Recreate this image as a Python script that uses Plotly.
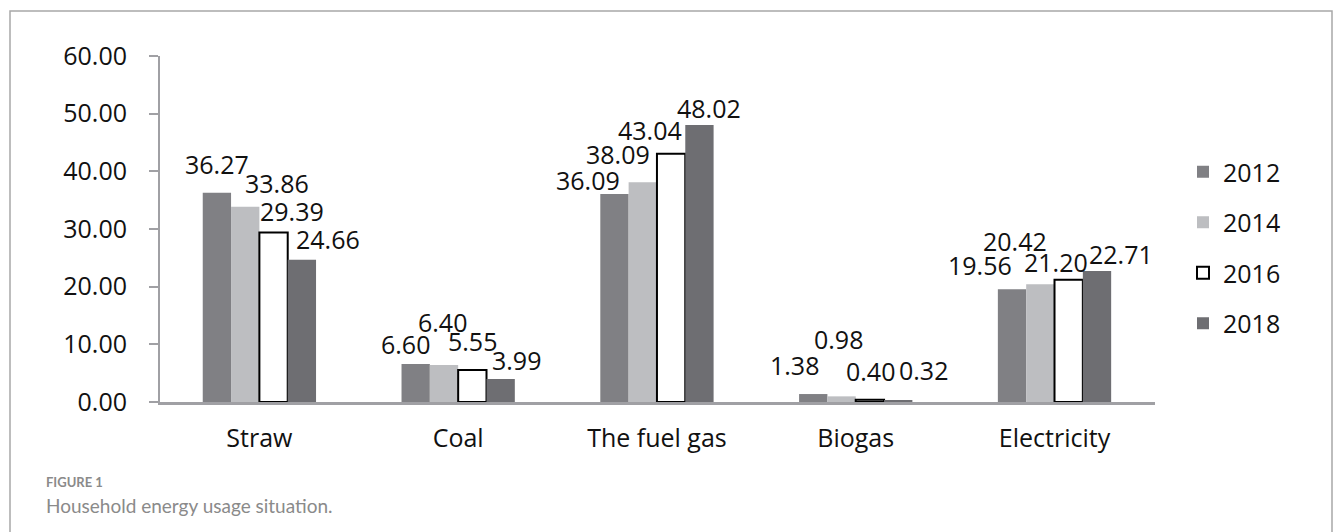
import plotly.graph_objects as go

# Household energy usage by source and survey year
categories = ["Straw", "Coal", "The fuel gas", "Biogas", "Electricity"]
years = ["2012", "2014", "2016", "2018"]
values_2012 = [36.27, 6.60, 36.09, 1.38, 19.56]
values_2014 = [33.86, 6.40, 38.09, 0.98, 20.42]
values_2016 = [29.39, 5.55, 43.04, 0.40, 21.20]
values_2018 = [24.66, 3.99, 48.02, 0.32, 22.71]
y_ticks = [0, 10, 20, 30, 40, 50, 60]

series = [values_2012, values_2014, values_2016, values_2018]

# styling per year: fill, outline colour, outline width
fills = ["#808084", "#bdbec1", "#ffffff", "#6e6e72"]
outlines = ["#808084", "#bdbec1", "#000000", "#6e6e72"]
outline_w = [0, 0, 2, 0]

# data label nudges (pixels): horizontal shift from bar centre, height above bar top
label_dx = [
    [0, -10, -26, -19, -32],
    [32, -2, -25, -3, -25],
    [18, 0, -21, 1, -13],
    [26, 16, 10, 25, 24],
]
label_dy = [
    [29, 20, 14, 29, 24],
    [24, 43, 28, 57, 43],
    [22, 29, 24, 29, 18],
    [21, 19, 17, 30, 17],
]

BARGAP = 0.43
FONT = "Open Sans"
FS = 25
W, H = 1333, 532
ML, MR, MT, MB = 160, 178, 56, 130
PW = W - ML - MR
PH = H - MT - MB


def px_x(p):
    return (p - ML) / PW


def px_y(p):
    return (H - MB - p) / PH


fig = go.Figure()
for k, (yr, vals) in enumerate(zip(years, series)):
    fig.add_trace(go.Bar(
        name=yr,
        x=categories,
        y=vals,
        marker=dict(color=fills[k], line=dict(color=outlines[k], width=outline_w[k])),
        legendgroup=yr,
    ))

bar_w = (1 - BARGAP) / len(years)
annotations = []
for k, vals in enumerate(series):
    for i, v in enumerate(vals):
        annotations.append(dict(
            x=i + (k - (len(years) - 1) / 2) * bar_w,
            y=v,
            xref="x", yref="y",
            text=f"{v:.2f}",
            showarrow=False,
            xanchor="center", yanchor="middle",
            xshift=label_dx[k][i],
            yshift=label_dy[k][i],
            font=dict(family=FONT, size=FS, color="#111111"),
        ))

annotations.append(dict(
    x=px_x(44), y=px_y(482), xref="paper", yref="paper",
    text="<b>FIGURE 1</b>", showarrow=False, xanchor="left", yanchor="middle",
    font=dict(family="Lato", size=13, color="#8a8a8a"),
))
annotations.append(dict(
    x=px_x(44), y=px_y(505), xref="paper", yref="paper",
    text="Household energy usage situation.", showarrow=False,
    xanchor="left", yanchor="middle",
    font=dict(family="Lato", size=19, color="#8a8a8a"),
))

fig.update_layout(
    width=W, height=H,
    margin=dict(l=ML, r=MR, t=MT, b=MB),
    paper_bgcolor="white",
    plot_bgcolor="white",
    barmode="group",
    bargap=BARGAP,
    bargroupgap=0,
    font=dict(family=FONT, size=FS, color="#111111"),
    showlegend=True,
    legend=dict(
        x=px_x(1183), y=px_y(149), xanchor="left", yanchor="top",
        font=dict(family=FONT, size=FS, color="#111111"),
        tracegroupgap=15,
        bgcolor="rgba(0,0,0,0)",
    ),
    annotations=annotations,
    shapes=[dict(
        type="rect", xref="paper", yref="paper",
        x0=px_x(10), x1=px_x(1332), y0=px_y(600), y1=px_y(11),
        line=dict(color="#a8a8a8", width=1.5),
        fillcolor="rgba(0,0,0,0)",
        layer="below",
    )],
)

fig.update_yaxes(
    range=[0, 60],
    tickvals=y_ticks,
    tickformat=".2f",
    showgrid=False,
    zeroline=False,
    showline=True,
    linecolor="#a0a0a4",
    linewidth=2,
    ticks="outside",
    ticklen=9,
    tickwidth=1.5,
    tickcolor="#a0a0a4",
    ticklabelstandoff=17,
    tickfont=dict(family=FONT, size=FS, color="#111111"),
)
fig.update_xaxes(
    showgrid=False,
    showline=True,
    linecolor="#a0a0a4",
    linewidth=2.5,
    ticks="",
    ticklabelstandoff=12,
    tickfont=dict(family=FONT, size=FS, color="#111111"),
)

fig.write_html("out.html")
